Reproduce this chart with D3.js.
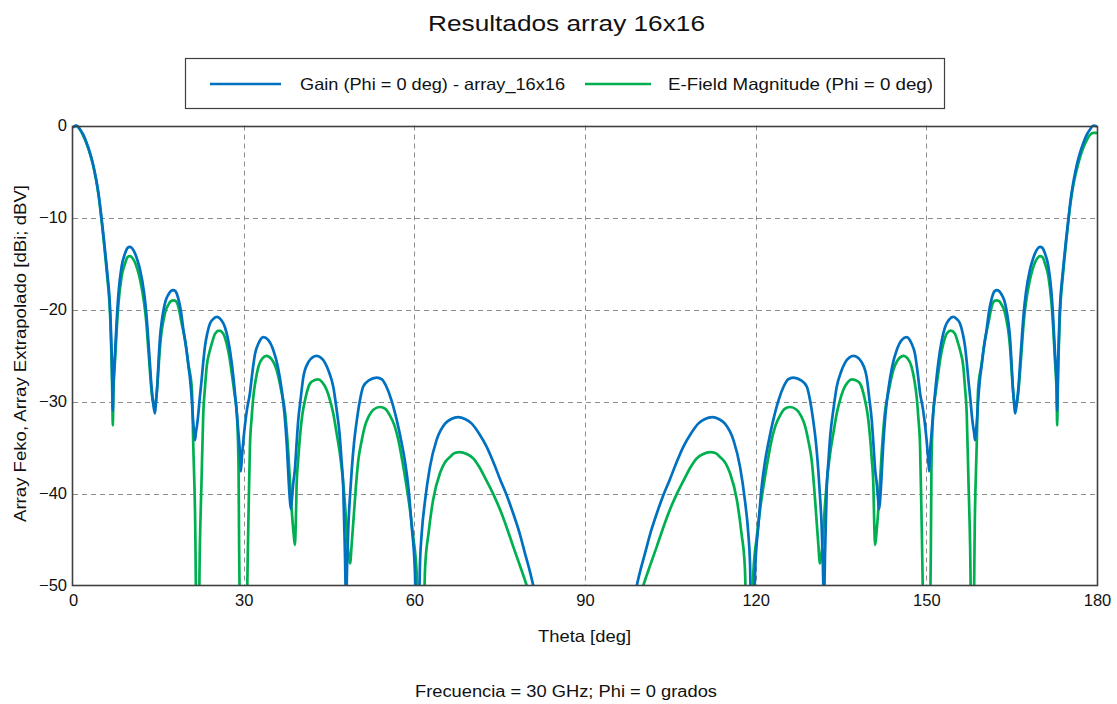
<!DOCTYPE html>
<html>
<head>
<meta charset="utf-8">
<script src="https://cdn.jsdelivr.net/npm/d3@7"></script>
<style>
  html, body { margin: 0; padding: 0; background: #ffffff; }
  svg { display: block; font-family: "Liberation Sans", Arial, sans-serif; }
</style>
</head>
<body>
<svg id="chart" width="1117" height="704"></svg>
<script>
// ---------- data ----------
const chartTitle = "Resultados array 16x16";
const xLabel = "Theta [deg]";
const yLabel = "Array Feko, Array Extrapolado [dBi; dBV]";
const footer = "Frecuencia = 30 GHz; Phi = 0 grados";
const seriesNames = ["Gain (Phi = 0 deg) - array_16x16", "E-Field Magnitude (Phi = 0 deg)"];
const xTicks = [0, 30, 60, 90, 120, 150, 180];
const yTicks = [0, -10, -20, -30, -40, -50];

// Gain [theta deg, dB]
const gainPoints = [
  [0,-0.2],[0.6,0],[1.2,-0.4],[1.8,-1.0],[2.4,-1.9],[3.0,-3.0],[3.4,-3.9],[3.8,-5.0],[4.2,-6.3],[4.6,-7.9],[5.0,-10.0],
  [5.4,-12.2],[5.8,-14.6],[6.1,-16.5],[6.4,-18.6],[6.6,-21],[6.8,-24.8],[6.9,-27.5],[7.0,-31.0],[7.1,-28],[7.25,-26.2],
  [7.4,-24.6],[7.7,-21],[8.0,-18.2],[8.55,-15.3],[9.15,-13.9],[9.6,-13.3],[10.0,-13.2],[10.45,-13.4],[10.9,-13.9],[11.35,-14.7],
  [11.8,-15.7],[12.5,-18.2],[12.9,-20.5],[13.2,-23.0],[13.5,-25.7],[13.8,-28.4],[14.1,-30.2],[14.4,-31.3],[14.6,-30.0],[14.8,-28.4],
  [15.05,-25.5],[15.3,-23.0],[15.6,-21.3],[15.9,-20.1],[16.3,-19.0],[16.75,-18.4],[17.2,-18.0],[17.6,-17.9],[18.0,-18.0],[18.5,-18.8],
  [19.0,-20.3],[19.4,-22.2],[19.9,-24.2],[20.3,-26.2],[20.6,-27.7],[20.9,-30.0],[21.1,-32.0],[21.3,-33.5],[21.45,-34.2],[21.6,-33.4],
  [21.8,-32.6],[22.0,-31.5],[22.3,-29.5],[22.6,-27.7],[22.9,-25.7],[23.2,-24.0],[23.6,-22.6],[24.1,-21.5],[24.7,-21.0],[25.3,-20.8],
  [26.0,-21.1],[26.7,-21.9],[27.3,-23.4],[27.9,-25.8],[28.35,-28.3],[28.8,-31.3],[29.1,-33.6],[29.35,-35.6],[29.5,-37.6],[29.7,-36.0],
  [30.0,-33.9],[30.2,-32.7],[30.6,-30.8],[31.1,-29.1],[31.5,-27.0],[32.0,-24.8],[32.6,-23.7],[33.45,-23.0],[34.3,-23.3],[35.2,-24.4],
  [36.0,-26.2],[36.7,-28.8],[37.2,-31.5],[37.6,-34.9],[37.9,-38.5],[38.1,-40.5],[38.3,-41.7],[38.5,-40.5],[38.7,-39.0],[39.0,-37.4],
  [39.3,-34.6],[39.6,-32.0],[40.0,-29.8],[40.5,-27.3],[41.4,-25.7],[42.1,-25.2],[42.8,-25.05],[43.5,-25.2],[44.3,-25.8],[45.0,-26.8],
  [45.75,-28.4],[46.3,-30.7],[46.9,-33.8],[47.2,-36.4],[47.5,-39.3],[47.8,-46.5],[48.0,-52],[48.2,-47.5],[48.4,-43.6],[48.7,-40.2],
  [49.0,-37.4],[49.4,-34.5],[49.9,-32.0],[50.4,-30.0],[51.0,-28.4],[52.0,-27.7],[53.4,-27.4],[54.3,-27.6],[55.1,-28.4],[56.0,-29.9],
  [56.9,-32.0],[57.7,-34.3],[58.4,-36.7],[59.0,-39.6],[59.5,-43.3],[60.1,-48.5],[60.6,-60],[61.0,-47.5],[61.3,-44.3],[61.9,-40.7],
  [62.75,-37.1],[63.9,-34.2],[65.4,-32.4],[66.5,-31.9],[67.7,-31.7],[68.9,-31.9],[70.1,-32.4],[71.4,-33.5],[72.7,-34.9],[73.9,-36.6],
  [75.1,-38.5],[76.3,-40.3],[77.4,-42.2],[78.5,-44.3],[79.45,-46.5],[80.2,-48.2],[80.9,-50],[81.8,-52.5],[82.8,-56],
  [97.2,-56],[98.2,-52.5],[99.1,-50],[99.8,-48.2],[100.55,-46.5],[101.5,-44.3],[102.6,-42.2],[103.7,-40.3],[104.9,-38.5],[106.1,-36.6],
  [107.3,-34.9],[108.6,-33.5],[109.9,-32.4],[111.1,-31.9],[112.4,-31.7],[113.5,-31.9],[114.6,-32.4],[116.1,-34.2],[117.25,-37.1],[118.1,-40.7],
  [118.7,-44.3],[119.0,-47.5],[119.4,-60],[119.9,-48.5],[120.5,-43.3],[121.0,-39.6],[121.6,-36.7],[122.3,-34.3],[123.1,-32.0],[124.0,-29.9],
  [124.9,-28.4],[125.7,-27.6],[126.6,-27.4],[128.0,-27.7],[129.0,-28.4],[129.6,-30.0],[130.1,-32.0],[130.6,-34.5],[131.0,-37.4],[131.3,-40.2],
  [131.6,-43.6],[131.8,-47.5],[132.0,-52],[132.2,-46.5],[132.5,-39.3],[132.8,-36.4],[133.1,-33.8],[133.7,-30.7],[134.25,-28.4],[135.0,-26.8],
  [135.7,-25.8],[136.5,-25.2],[137.2,-25.05],[137.9,-25.2],[138.6,-25.7],[139.5,-27.3],[140.0,-29.8],[140.4,-32.0],[140.7,-34.6],[141.0,-37.4],
  [141.3,-39.0],[141.5,-40.5],[141.7,-41.7],[141.9,-40.5],[142.1,-38.5],[142.4,-34.9],[142.8,-31.5],[143.3,-28.8],[144.0,-26.2],[144.8,-24.4],
  [145.7,-23.3],[146.55,-23.0],[147.4,-23.7],[148.0,-24.8],[148.5,-27.0],[148.9,-29.1],[149.4,-30.8],[149.8,-32.7],[150.0,-33.9],[150.3,-36.0],
  [150.5,-37.6],[150.65,-35.6],[150.9,-33.6],[151.2,-31.3],[151.65,-28.3],[152.1,-25.8],[152.7,-23.4],[153.3,-21.9],[154.0,-21.1],[154.7,-20.8],
  [155.3,-21.0],[155.9,-21.5],[156.4,-22.6],[156.8,-24.0],[157.1,-25.7],[157.4,-27.7],[157.7,-29.5],[158.0,-31.5],[158.2,-32.6],[158.4,-33.4],
  [158.55,-34.2],[158.7,-33.5],[158.9,-32.0],[159.1,-30.0],[159.4,-27.7],[159.7,-26.2],[160.1,-24.2],[160.6,-22.2],[161.0,-20.3],[161.5,-18.8],
  [162.0,-18.0],[162.4,-17.9],[162.8,-18.0],[163.25,-18.4],[163.7,-19.0],[164.1,-20.1],[164.4,-21.3],[164.7,-23.0],[164.95,-25.5],[165.2,-28.4],
  [165.4,-30.0],[165.6,-31.3],[165.9,-30.2],[166.2,-28.4],[166.5,-25.7],[166.8,-23.0],[167.1,-20.5],[167.5,-18.2],[168.2,-15.7],[168.65,-14.7],
  [169.1,-13.9],[169.55,-13.4],[170.0,-13.2],[170.4,-13.3],[170.85,-13.9],[171.45,-15.3],[172.0,-18.2],[172.3,-21],[172.6,-24.6],[172.75,-26.2],
  [172.9,-28],[173.0,-31.0],[173.1,-27.5],[173.2,-24.8],[173.4,-21],[173.6,-18.6],[173.9,-16.5],[174.2,-14.6],[174.6,-12.2],[175.0,-10.0],
  [175.4,-7.9],[175.8,-6.3],[176.2,-5.0],[176.6,-3.9],[177.0,-3.0],[177.6,-1.9],[178.2,-1.0],[178.8,-0.4],[179.4,0],[180,-0.1]
];

// E-Field magnitude [theta deg, dBV]
const efieldPoints = [
  [0,-0.2],[0.6,-0.05],[1.2,-0.4],[1.8,-1.1],[2.4,-2.0],[3.0,-3.1],[3.4,-4.0],[3.8,-5.1],[4.2,-6.4],[4.6,-8.1],[5.0,-10.2],
  [5.4,-12.5],[5.8,-15.0],[6.1,-17.0],[6.4,-19.2],[6.6,-21.8],[6.8,-26.0],[6.9,-29],[7.0,-32.6],[7.1,-29],[7.25,-27],
  [7.4,-25.4],[7.7,-22],[8.0,-19.3],[8.55,-16.4],[9.15,-15.0],[9.6,-14.3],[10.0,-14.2],[10.45,-14.4],[10.9,-14.9],[11.35,-15.7],
  [11.8,-16.8],[12.5,-19.3],[12.9,-21.5],[13.2,-24.0],[13.5,-26.5],[13.8,-28.8],[14.1,-30.2],[14.4,-30.7],[14.6,-29.8],[14.8,-28.5],
  [15.05,-26.2],[15.3,-24.0],[15.6,-22.3],[15.9,-21.2],[16.3,-20.1],[16.75,-19.5],[17.2,-19.1],[17.7,-19.0],[18.1,-19.1],[18.6,-19.9],
  [19.1,-21.5],[19.7,-23.3],[20.3,-26.0],[20.9,-28.7],[21.15,-34.9],[21.45,-42],[21.9,-65],[22.3,-45.8],[22.6,-38.5],[22.9,-31.3],
  [23.2,-28.5],[23.5,-26.2],[24.0,-24.6],[24.4,-23.7],[25.0,-22.6],[25.7,-22.3],[26.4,-22.6],[27.0,-23.7],[27.5,-25.2],[27.9,-26.9],
  [28.4,-29.2],[28.8,-31.3],[29.1,-37.1],[29.2,-45.8],[30.0,-70],[30.8,-44.0],[31.1,-34.9],[31.4,-31.8],[31.7,-29.5],[32.1,-27.7],
  [32.6,-26.2],[33.3,-25.3],[34.0,-25.05],[34.9,-25.4],[35.8,-26.6],[36.6,-28.8],[37.3,-31.3],[37.85,-35.6],[38.4,-41.4],[38.8,-44.5],
  [39.0,-45.6],[39.15,-43.5],[39.3,-39.3],[39.6,-36.2],[39.9,-33.8],[40.3,-31.5],[40.8,-29.8],[41.7,-28.0],[42.4,-27.7],[43.1,-27.6],
  [43.8,-27.9],[44.6,-28.75],[45.2,-29.9],[45.75,-31.3],[46.3,-33.3],[46.9,-35.6],[47.4,-38.2],[47.8,-41.1],[48.1,-43.9],[48.4,-46.5],
  [48.7,-47.6],[49.0,-45.4],[49.3,-42.9],[49.7,-39.5],[50.15,-36.4],[50.7,-34.4],[51.3,-32.7],[52.0,-31.6],[52.8,-30.9],[54.0,-30.6],
  [54.9,-30.8],[55.7,-31.5],[56.5,-32.6],[57.2,-34.2],[57.9,-36.5],[58.65,-39.3],[59.2,-41.6],[59.8,-44.7],[60.4,-48.5],[61.2,-65],
  [61.9,-48.0],[62.5,-44.3],[63.3,-40.7],[64.5,-37.8],[65.3,-36.7],[66.3,-36.0],[67.1,-35.6],[68.0,-35.5],[69.2,-35.7],[70.4,-36.2],
  [71.5,-37.2],[72.6,-38.5],[73.9,-40.1],[75.1,-41.8],[76.3,-43.8],[77.4,-45.8],[78.6,-47.9],[79.75,-50],[80.8,-52.2],[81.8,-54.5],
  [98.2,-54.5],[99.2,-52.2],[100.25,-50],[101.4,-47.9],[102.6,-45.8],[103.7,-43.8],[104.9,-41.8],[106.1,-40.1],[107.4,-38.5],[108.5,-37.2],
  [109.6,-36.2],[110.8,-35.7],[112.0,-35.5],[112.9,-35.6],[113.7,-36.0],[114.7,-36.7],[115.5,-37.8],[116.7,-40.7],[117.5,-44.3],[118.1,-48.0],
  [118.8,-65],[119.6,-48.5],[120.2,-44.7],[120.8,-41.6],[121.35,-39.3],[122.1,-36.5],[122.8,-34.2],[123.5,-32.6],[124.3,-31.5],[125.1,-30.8],
  [126.0,-30.6],[127.2,-30.9],[128.0,-31.6],[128.7,-32.7],[129.3,-34.4],[129.85,-36.4],[130.3,-39.5],[130.7,-42.9],[131.0,-45.4],[131.3,-47.6],
  [131.6,-46.5],[131.9,-43.9],[132.2,-41.1],[132.6,-38.2],[133.1,-35.6],[133.7,-33.3],[134.25,-31.3],[134.8,-29.9],[135.4,-28.75],[136.2,-27.9],
  [136.9,-27.6],[137.6,-27.7],[138.3,-28.0],[139.2,-29.8],[139.7,-31.5],[140.1,-33.8],[140.4,-36.2],[140.7,-39.3],[140.85,-43.5],[141.0,-45.6],
  [141.2,-44.5],[141.6,-41.4],[142.15,-35.6],[142.7,-31.3],[143.4,-28.8],[144.2,-26.6],[145.1,-25.4],[146.0,-25.05],[146.7,-25.3],[147.4,-26.2],
  [147.9,-27.7],[148.3,-29.5],[148.6,-31.8],[148.9,-34.9],[149.2,-44.0],[150.0,-70],[150.8,-45.8],[150.9,-37.1],[151.2,-31.3],[151.6,-29.2],
  [152.1,-26.9],[152.5,-25.2],[153.0,-23.7],[153.6,-22.6],[154.3,-22.3],[155.0,-22.6],[155.6,-23.7],[156.0,-24.6],[156.5,-26.2],[156.8,-28.5],
  [157.1,-31.3],[157.4,-38.5],[157.7,-45.8],[158.1,-65],[158.55,-42],[158.85,-34.9],[159.1,-28.7],[159.7,-26.0],[160.3,-23.3],[160.9,-21.5],
  [161.4,-19.9],[161.9,-19.1],[162.3,-19.0],[162.8,-19.1],[163.25,-19.5],[163.7,-20.1],[164.1,-21.2],[164.4,-22.3],[164.7,-24.0],[164.95,-26.2],
  [165.2,-28.5],[165.4,-29.8],[165.6,-30.7],[165.9,-30.2],[166.2,-28.8],[166.5,-26.5],[166.8,-24.0],[167.1,-21.5],[167.5,-19.3],[168.2,-16.8],
  [168.65,-15.7],[169.1,-14.9],[169.55,-14.4],[170.0,-14.2],[170.4,-14.3],[170.85,-15.0],[171.45,-16.4],[172.0,-19.3],[172.3,-22],[172.6,-25.4],
  [172.75,-27],[172.9,-29],[173.0,-32.6],[173.1,-29],[173.2,-26.0],[173.4,-21.8],[173.6,-19.2],[173.9,-17.0],[174.2,-15.0],[174.6,-12.5],
  [175.0,-10.2],[175.4,-8.2],[175.8,-6.6],[176.2,-5.4],[176.6,-4.4],[177.0,-3.5],[177.6,-2.4],[178.2,-1.6],[178.8,-1.0],[179.4,-0.8],[180,-0.8]
];

const seriesColors = ["#0070C0", "#00B050"];

// ---------- layout ----------
const svg = d3.select("#chart");
const W = 1117, H = 704;
const plot = { left: 73, right: 1097, top: 125.5, bottom: 585.5 };

const x = d3.scaleLinear().domain([0, 180]).range([plot.left, plot.right]);
const y = d3.scaleLinear().domain([-50, 0]).range([plot.bottom, plot.top]);

svg.append("rect").attr("width", W).attr("height", H).attr("fill", "#ffffff");

svg.append("defs").append("clipPath").attr("id", "plotClip")
  .append("rect")
  .attr("x", plot.left).attr("y", plot.top - 2)
  .attr("width", plot.right - plot.left).attr("height", plot.bottom - plot.top + 2);

// grid
const grid = svg.append("g").attr("class", "grid");
grid.selectAll("line.vx").data(xTicks.filter(d => d > 0 && d < 180)).enter()
  .append("line")
  .attr("x1", d => Math.round(x(d)) + 0.5).attr("x2", d => Math.round(x(d)) + 0.5)
  .attr("y1", plot.top).attr("y2", plot.bottom)
  .attr("stroke", "#8c8c8c").attr("stroke-width", 1).attr("stroke-dasharray", "5,4");
grid.selectAll("line.hy").data(yTicks.filter(d => d < 0 && d > -50)).enter()
  .append("line")
  .attr("x1", plot.left).attr("x2", plot.right)
  .attr("y1", d => Math.round(y(d)) + 0.5).attr("y2", d => Math.round(y(d)) + 0.5)
  .attr("stroke", "#8c8c8c").attr("stroke-width", 1).attr("stroke-dasharray", "5,4");

// series
const line = d3.line()
  .x(d => x(d[0]))
  .y(d => y(d[1]))
  .curve(d3.curveMonotoneX);

const gLines = svg.append("g").attr("clip-path", "url(#plotClip)");
gLines.append("path").datum(efieldPoints)
  .attr("d", line).attr("fill", "none")
  .attr("stroke", seriesColors[1]).attr("stroke-width", 2.7).attr("stroke-linejoin", "round");
gLines.append("path").datum(gainPoints)
  .attr("d", line).attr("fill", "none")
  .attr("stroke", seriesColors[0]).attr("stroke-width", 2.7).attr("stroke-linejoin", "round");

// frame
svg.append("rect")
  .attr("x", plot.left - 0.5).attr("y", plot.top + 1)
  .attr("width", plot.right - plot.left + 1).attr("height", plot.bottom - plot.top - 1)
  .attr("fill", "none").attr("stroke", "#404040").attr("stroke-width", 1.6);

// axes
const xAxis = d3.axisBottom(x).tickValues(xTicks).tickSize(0).tickPadding(9);
svg.append("g").attr("transform", `translate(0,${plot.bottom})`).call(xAxis)
  .call(g => g.select(".domain").remove())
  .call(g => g.selectAll("text").attr("font-size", 16.5).attr("fill", "#111")
    .attr("font-family", "Liberation Sans, Arial, sans-serif"));

const yAxis = d3.axisLeft(y).tickValues(yTicks).tickSize(0).tickPadding(6);
svg.append("g").attr("transform", `translate(${plot.left},0)`).call(yAxis)
  .call(g => g.select(".domain").remove())
  .call(g => g.selectAll("text").attr("font-size", 16.5).attr("fill", "#111")
    .attr("font-family", "Liberation Sans, Arial, sans-serif"));

// text helper: stretch to the measured width of the reference rendering
function label(parent, txt, xPos, yPos, size, len, anchor) {
  return parent.append("text").attr("x", xPos).attr("y", yPos)
    .attr("text-anchor", anchor || "middle").attr("font-size", size).attr("fill", "#111")
    .attr("textLength", len).attr("lengthAdjust", "spacingAndGlyphs").text(txt);
}

label(svg, chartTitle, 566.5, 31, 22, 277);
label(svg, xLabel, 584.5, 642, 16.5, 93);
label(svg, footer, 566, 697, 16, 302);
label(svg.append("g").attr("transform", "translate(26,353.5) rotate(-90)"), yLabel, 0, 0, 16.5, 337);

// legend
const legend = svg.append("g");
legend.append("rect").attr("x", 185.5).attr("y", 58.5).attr("width", 759).attr("height", 50)
  .attr("fill", "#ffffff").attr("stroke", "#404040").attr("stroke-width", 1.2);
const legendItems = [
  { name: seriesNames[0], color: seriesColors[0], x1: 210, x2: 281, tx: 300 },
  { name: seriesNames[1], color: seriesColors[1], x1: 585, x2: 651, tx: 668 }
];
legendItems.forEach(it => {
  legend.append("line").attr("x1", it.x1).attr("x2", it.x2).attr("y1", 84).attr("y2", 84)
    .attr("stroke", it.color).attr("stroke-width", 2.6);
  label(legend, it.name, it.tx, 90, 16.5, 265, "start");
});
</script>
</body>
</html>
